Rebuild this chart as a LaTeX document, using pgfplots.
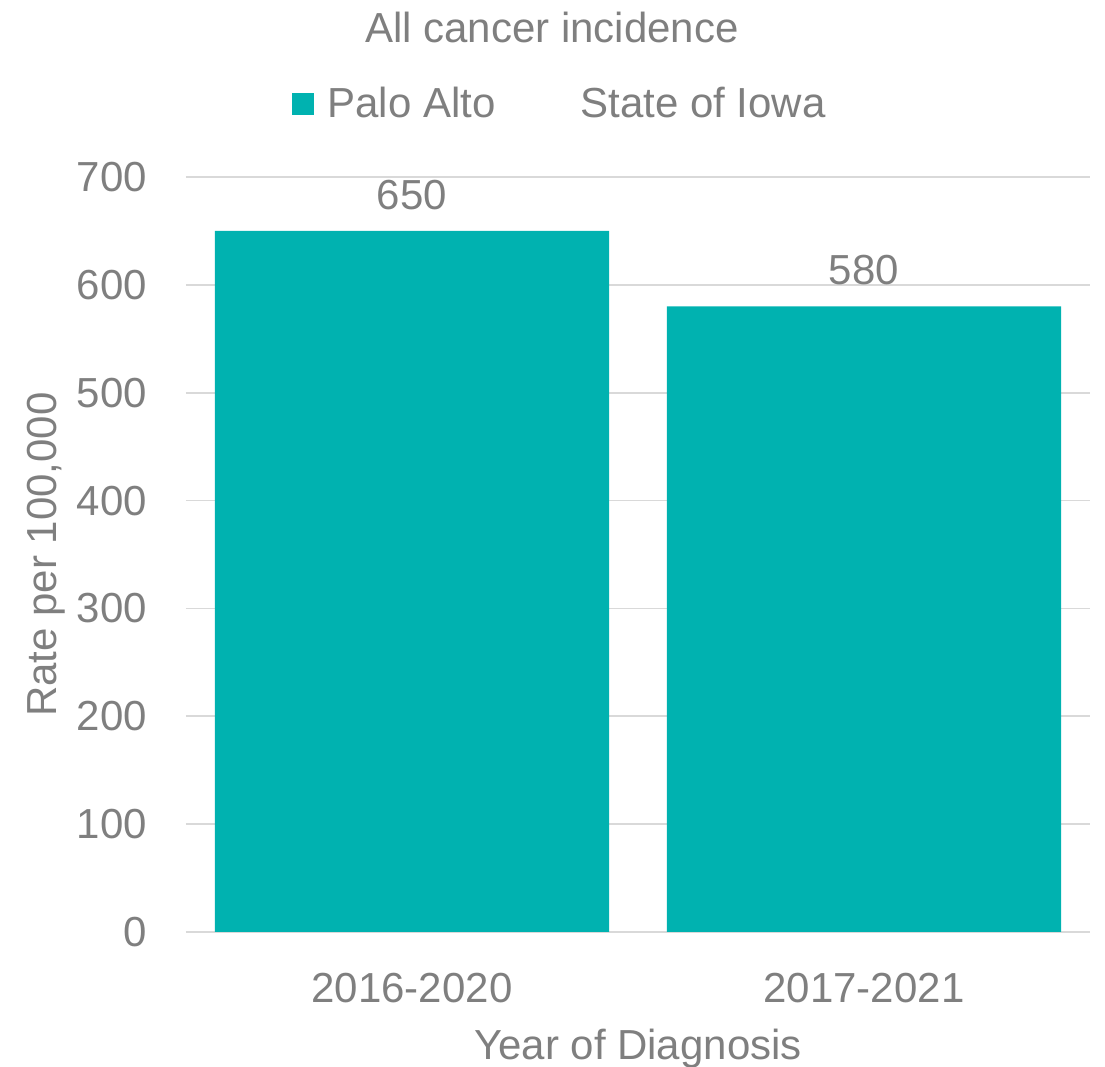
\documentclass[border=0pt]{standalone}
\usepackage{pgfplots}
\pgfplotsset{compat=1.18}
\usepackage{fontspec}
\setmainfont{Liberation Sans}
\definecolor{teal1}{HTML}{00B2B0}
\definecolor{txtgray}{HTML}{7F7F7F}
\definecolor{gridgray}{HTML}{D9D9D9}
\begin{document}
\begin{tikzpicture}[x=1pt,y=1pt]
\useasboundingbox (0,0) rectangle (552.5,533.5);
\begin{axis}[
  at={(93pt,67.5pt)}, anchor=south west,
  scale only axis, width=452pt, height=377.5pt,
  ybar, bar width=0.872,
  xmin=-0.5, xmax=1.5, ymin=0, ymax=700,
  xtick={0,1}, xticklabels={2016-2020,2017-2021},
  ytick={0,100,...,700},
  axis line style={draw=none},
  major tick length=0pt,
  ymajorgrids, grid style={gridgray, line width=0.8pt},
  /pgf/number format/assume math mode=true,
  tick label style={font=\fontsize{21}{24}\selectfont, text=txtgray},
  yticklabel style={xshift=-16pt},
  xticklabel style={yshift=-17pt},
  ylabel={Rate per 100,000},
  xlabel={Year of Diagnosis},
  every axis y label/.style={rotate=90, anchor=center, at={(-70pt,188.75pt)},
    font=\fontsize{21}{24}\selectfont, text=txtgray},
  every axis x label/.style={at={(226pt,-58.5pt)}, anchor=center,
    font=\fontsize{21}{24}\selectfont, text=txtgray},
  nodes near coords,
  every node near coord/.append style={font=\fontsize{21}{24}\selectfont, text=txtgray, yshift=7pt},
  legend style={draw=none, at={(0.5,1.0)}, anchor=center, xshift=-38.5pt, yshift=36.5pt,
    legend columns=2,
    font=\fontsize{21}{24}\selectfont, text=txtgray,
    /tikz/every even column/.append style={column sep=23pt}},
  legend image code/.code={\fill[#1] (0pt,-5.5pt) rectangle (11pt,5.5pt); \path (15.5pt,0pt);},
  title={All cancer incidence},
  title style={font=\fontsize{21}{24}\selectfont, text=txtgray, at={(0.5,1.0)}, anchor=center, yshift=69pt, xshift=-43pt},
]
\addplot[fill=teal1, draw=none] coordinates {(0,650) (1,580)};
\addlegendentry{Palo Alto}
\addlegendimage{fill=white, draw=none}
\addlegendentry{State of Iowa}
\end{axis}
\end{tikzpicture}
\end{document}
